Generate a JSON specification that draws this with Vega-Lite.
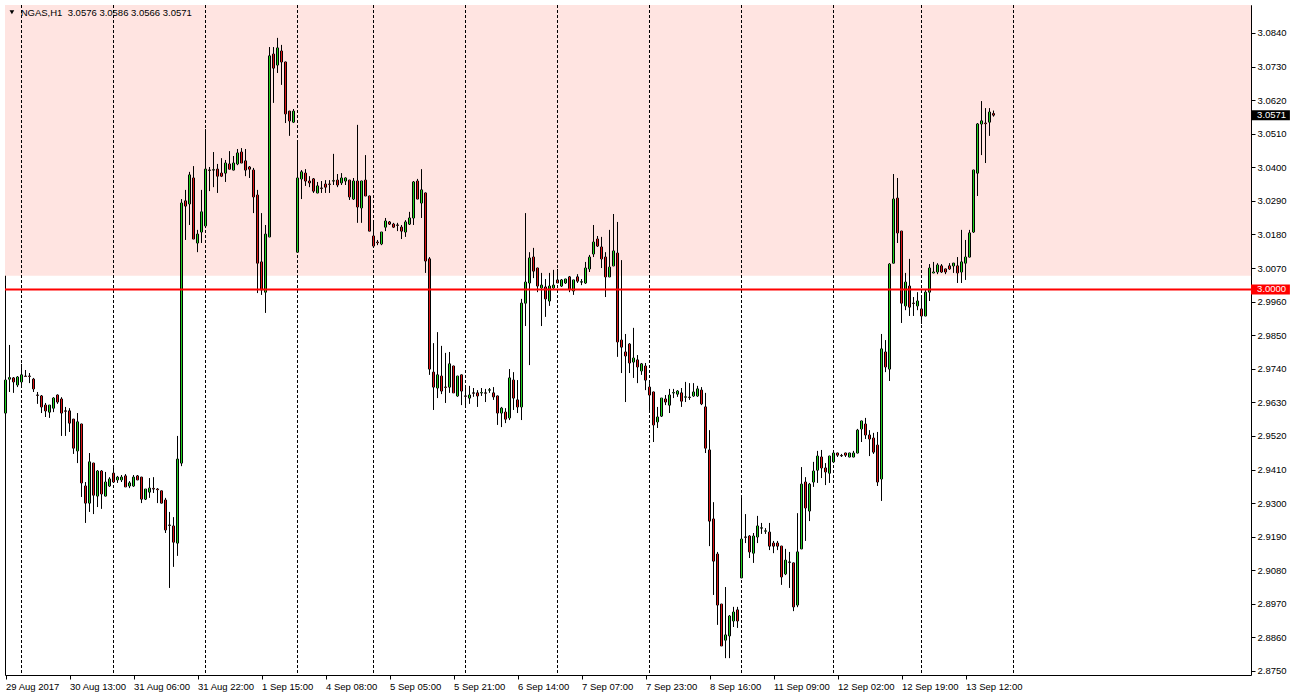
{
"$schema":"https://vega.github.io/schema/vega-lite/v6.json",
"width":1246,"height":670,
"autosize":{"type":"none"},
"padding":{"left":5,"top":5,"right":42,"bottom":23},
"background":"#ffffff",
"config":{"view":{"stroke":"#000000","strokeWidth":1},"font":"Liberation Sans",
"scale":{"continuousPadding":0},
"axis":{"labelFont":"Liberation Sans","labelFontSize":9.5,"labelColor":"#000000","tickColor":"#000000","tickSize":4,"domain":false,"grid":false,"labelOverlap":false,"labelBound":false,"labelFlush":false}},
"datasets":{
"bars":[
{"i":0,"o":2.9595,"h":2.9716,"l":2.9582,"c":2.9703},
{"i":1,"o":2.9706,"h":2.9818,"l":2.9664,"c":2.9711},
{"i":2,"o":2.9710,"h":2.9713,"l":2.9661,"c":2.9697},
{"i":3,"o":2.9687,"h":2.9716,"l":2.9680,"c":2.9713},
{"i":4,"o":2.9697,"h":2.9756,"l":2.9687,"c":2.9720},
{"i":5,"o":2.9716,"h":2.9736,"l":2.9713,"c":2.9715},
{"i":6,"o":2.9716,"h":2.9726,"l":2.9693,"c":2.9715},
{"i":7,"o":2.9706,"h":2.9710,"l":2.9664,"c":2.9674},
{"i":8,"o":2.9654,"h":2.9664,"l":2.9625,"c":2.9653},
{"i":9,"o":2.9651,"h":2.9654,"l":2.9595,"c":2.9615},
{"i":10,"o":2.9621,"h":2.9628,"l":2.9582,"c":2.9602},
{"i":11,"o":2.9598,"h":2.9621,"l":2.9579,"c":2.9621},
{"i":12,"o":2.9611,"h":2.9647,"l":2.9598,"c":2.9644},
{"i":13,"o":2.9654,"h":2.9656,"l":2.9625,"c":2.9631},
{"i":14,"o":2.9641,"h":2.9647,"l":2.9520,"c":2.9595},
{"i":15,"o":2.9602,"h":2.9615,"l":2.9520,"c":2.9601},
{"i":16,"o":2.9602,"h":2.9611,"l":2.9533,"c":2.9562},
{"i":17,"o":2.9575,"h":2.9576,"l":2.9461,"c":2.9480},
{"i":18,"o":2.9471,"h":2.9595,"l":2.9431,"c":2.9566},
{"i":19,"o":2.9559,"h":2.9560,"l":2.9320,"c":2.9366},
{"i":20,"o":2.9356,"h":2.9369,"l":2.9235,"c":2.9300},
{"i":21,"o":2.9300,"h":2.9464,"l":2.9271,"c":2.9435},
{"i":22,"o":2.9431,"h":2.9432,"l":2.9264,"c":2.9326},
{"i":23,"o":2.9323,"h":2.9408,"l":2.9287,"c":2.9405},
{"i":24,"o":2.9405,"h":2.9408,"l":2.9281,"c":2.9330},
{"i":25,"o":2.9323,"h":2.9402,"l":2.9322,"c":2.9369},
{"i":26,"o":2.9356,"h":2.9385,"l":2.9353,"c":2.9379},
{"i":27,"o":2.9398,"h":2.9421,"l":2.9368,"c":2.9369},
{"i":28,"o":2.9376,"h":2.9389,"l":2.9366,"c":2.9385},
{"i":29,"o":2.9376,"h":2.9392,"l":2.9369,"c":2.9385},
{"i":30,"o":2.9389,"h":2.9395,"l":2.9353,"c":2.9353},
{"i":31,"o":2.9356,"h":2.9372,"l":2.9349,"c":2.9366},
{"i":32,"o":2.9356,"h":2.9392,"l":2.9353,"c":2.9385},
{"i":33,"o":2.9389,"h":2.9392,"l":2.9375,"c":2.9376},
{"i":34,"o":2.9385,"h":2.9386,"l":2.9300,"c":2.9313},
{"i":35,"o":2.9313,"h":2.9346,"l":2.9310,"c":2.9346},
{"i":36,"o":2.9336,"h":2.9382,"l":2.9317,"c":2.9349},
{"i":37,"o":2.9348,"h":2.9385,"l":2.9333,"c":2.9346},
{"i":38,"o":2.9346,"h":2.9349,"l":2.9300,"c":2.9344},
{"i":39,"o":2.9340,"h":2.9341,"l":2.9299,"c":2.9300},
{"i":40,"o":2.9310,"h":2.9317,"l":2.9202,"c":2.9212},
{"i":41,"o":2.9228,"h":2.9271,"l":2.9022,"c":2.9227},
{"i":42,"o":2.9225,"h":2.9254,"l":2.9091,"c":2.9172},
{"i":43,"o":2.9169,"h":2.9520,"l":2.9127,"c":2.9444},
{"i":44,"o":2.9431,"h":3.0296,"l":2.9421,"c":3.0283},
{"i":45,"o":3.0290,"h":3.0326,"l":3.0162,"c":3.0273},
{"i":46,"o":3.0280,"h":3.0385,"l":3.0211,"c":3.0375},
{"i":47,"o":3.0365,"h":3.0404,"l":3.0165,"c":3.0165},
{"i":48,"o":3.0152,"h":3.0195,"l":3.0122,"c":3.0181},
{"i":49,"o":3.0188,"h":3.0326,"l":3.0152,"c":3.0254},
{"i":50,"o":3.0208,"h":3.0525,"l":3.0201,"c":3.0394},
{"i":51,"o":3.0391,"h":3.0401,"l":3.0322,"c":3.0390},
{"i":52,"o":3.0391,"h":3.0450,"l":3.0335,"c":3.0392},
{"i":53,"o":3.0394,"h":3.0411,"l":3.0316,"c":3.0371},
{"i":54,"o":3.0381,"h":3.0430,"l":3.0368,"c":3.0371},
{"i":55,"o":3.0381,"h":3.0424,"l":3.0352,"c":3.0414},
{"i":56,"o":3.0411,"h":3.0453,"l":3.0393,"c":3.0394},
{"i":57,"o":3.0391,"h":3.0437,"l":3.0390,"c":3.0414},
{"i":58,"o":3.0411,"h":3.0460,"l":3.0407,"c":3.0447},
{"i":59,"o":3.0450,"h":3.0463,"l":3.0414,"c":3.0414},
{"i":60,"o":3.0421,"h":3.0460,"l":3.0371,"c":3.0391},
{"i":61,"o":3.0401,"h":3.0404,"l":3.0365,"c":3.0394},
{"i":62,"o":3.0391,"h":3.0398,"l":3.0250,"c":3.0303},
{"i":63,"o":3.0309,"h":3.0326,"l":2.9988,"c":3.0086},
{"i":64,"o":3.0090,"h":3.0250,"l":2.9982,"c":2.9998},
{"i":65,"o":2.9991,"h":3.0211,"l":2.9923,"c":3.0181},
{"i":66,"o":3.0172,"h":3.0794,"l":3.0171,"c":3.0765},
{"i":67,"o":3.0771,"h":3.0794,"l":3.0611,"c":3.0725},
{"i":68,"o":3.0735,"h":3.0824,"l":3.0709,"c":3.0791},
{"i":69,"o":3.0781,"h":3.0801,"l":3.0670,"c":3.0745},
{"i":70,"o":3.0745,"h":3.0746,"l":3.0545,"c":3.0575},
{"i":71,"o":3.0584,"h":3.0585,"l":3.0503,"c":3.0552},
{"i":72,"o":3.0548,"h":3.0591,"l":3.0545,"c":3.0584},
{"i":73,"o":3.0122,"h":3.0483,"l":3.0121,"c":3.0365},
{"i":74,"o":3.0362,"h":3.0391,"l":3.0296,"c":3.0385},
{"i":75,"o":3.0381,"h":3.0394,"l":3.0339,"c":3.0355},
{"i":76,"o":3.0355,"h":3.0371,"l":3.0335,"c":3.0349},
{"i":77,"o":3.0362,"h":3.0365,"l":3.0316,"c":3.0322},
{"i":78,"o":3.0316,"h":3.0352,"l":3.0315,"c":3.0339},
{"i":79,"o":3.0332,"h":3.0355,"l":3.0316,"c":3.0331},
{"i":80,"o":3.0345,"h":3.0358,"l":3.0316,"c":3.0335},
{"i":81,"o":3.0345,"h":3.0358,"l":3.0316,"c":3.0344},
{"i":82,"o":3.0355,"h":3.0444,"l":3.0342,"c":3.0356},
{"i":83,"o":3.0358,"h":3.0378,"l":3.0335,"c":3.0342},
{"i":84,"o":3.0349,"h":3.0381,"l":3.0342,"c":3.0365},
{"i":85,"o":3.0355,"h":3.0367,"l":3.0342,"c":3.0365},
{"i":86,"o":3.0358,"h":3.0359,"l":3.0293,"c":3.0303},
{"i":87,"o":3.0296,"h":3.0365,"l":3.0293,"c":3.0355},
{"i":88,"o":3.0355,"h":3.0539,"l":3.0218,"c":3.0270},
{"i":89,"o":3.0267,"h":3.0356,"l":3.0218,"c":3.0355},
{"i":90,"o":3.0358,"h":3.0440,"l":3.0306,"c":3.0306},
{"i":91,"o":3.0306,"h":3.0307,"l":3.0191,"c":3.0191},
{"i":92,"o":3.0175,"h":3.0218,"l":3.0136,"c":3.0142},
{"i":93,"o":3.0155,"h":3.0162,"l":3.0145,"c":3.0153},
{"i":94,"o":3.0149,"h":3.0188,"l":3.0145,"c":3.0188},
{"i":95,"o":3.0204,"h":3.0234,"l":3.0191,"c":3.0224},
{"i":96,"o":3.0221,"h":3.0224,"l":3.0211,"c":3.0214},
{"i":97,"o":3.0214,"h":3.0218,"l":3.0201,"c":3.0204},
{"i":98,"o":3.0211,"h":3.0218,"l":3.0191,"c":3.0210},
{"i":99,"o":3.0204,"h":3.0211,"l":3.0165,"c":3.0191},
{"i":100,"o":3.0188,"h":3.0227,"l":3.0172,"c":3.0221},
{"i":101,"o":3.0214,"h":3.0254,"l":3.0211,"c":3.0234},
{"i":102,"o":3.0234,"h":3.0355,"l":3.0211,"c":3.0352},
{"i":103,"o":3.0355,"h":3.0362,"l":3.0296,"c":3.0296},
{"i":104,"o":3.0283,"h":3.0394,"l":3.0234,"c":3.0326},
{"i":105,"o":3.0316,"h":3.0317,"l":3.0054,"c":3.0093},
{"i":106,"o":3.0100,"h":3.0106,"l":2.9720,"c":2.9739},
{"i":107,"o":2.9729,"h":2.9824,"l":2.9605,"c":2.9680},
{"i":108,"o":2.9677,"h":2.9860,"l":2.9644,"c":2.9720},
{"i":109,"o":2.9716,"h":2.9815,"l":2.9657,"c":2.9667},
{"i":110,"o":2.9680,"h":2.9792,"l":2.9628,"c":2.9679},
{"i":111,"o":2.9680,"h":2.9795,"l":2.9661,"c":2.9756},
{"i":112,"o":2.9749,"h":2.9750,"l":2.9661,"c":2.9661},
{"i":113,"o":2.9651,"h":2.9717,"l":2.9648,"c":2.9716},
{"i":114,"o":2.9720,"h":2.9721,"l":2.9621,"c":2.9667},
{"i":115,"o":2.9651,"h":2.9677,"l":2.9621,"c":2.9650},
{"i":116,"o":2.9644,"h":2.9684,"l":2.9625,"c":2.9654},
{"i":117,"o":2.9661,"h":2.9677,"l":2.9648,"c":2.9660},
{"i":118,"o":2.9661,"h":2.9670,"l":2.9615,"c":2.9651},
{"i":119,"o":2.9661,"h":2.9677,"l":2.9651,"c":2.9662},
{"i":120,"o":2.9661,"h":2.9674,"l":2.9631,"c":2.9660},
{"i":121,"o":2.9670,"h":2.9677,"l":2.9661,"c":2.9671},
{"i":122,"o":2.9661,"h":2.9680,"l":2.9638,"c":2.9648},
{"i":123,"o":2.9651,"h":2.9652,"l":2.9556,"c":2.9595},
{"i":124,"o":2.9595,"h":2.9615,"l":2.9549,"c":2.9611},
{"i":125,"o":2.9598,"h":2.9611,"l":2.9562,"c":2.9575},
{"i":126,"o":2.9579,"h":2.9739,"l":2.9572,"c":2.9710},
{"i":127,"o":2.9703,"h":2.9729,"l":2.9605,"c":2.9644},
{"i":128,"o":2.9638,"h":2.9703,"l":2.9595,"c":2.9615},
{"i":129,"o":2.9615,"h":2.9969,"l":2.9572,"c":2.9955},
{"i":130,"o":2.9955,"h":3.0250,"l":2.9880,"c":3.0024},
{"i":131,"o":3.0021,"h":3.0122,"l":2.9752,"c":3.0103},
{"i":132,"o":3.0106,"h":3.0136,"l":3.0037,"c":3.0060},
{"i":133,"o":3.0070,"h":3.0071,"l":2.9991,"c":3.0011},
{"i":134,"o":3.0005,"h":3.0054,"l":2.9880,"c":3.0014},
{"i":135,"o":3.0008,"h":3.0034,"l":2.9910,"c":2.9969},
{"i":136,"o":2.9962,"h":3.0054,"l":2.9946,"c":3.0011},
{"i":137,"o":3.0005,"h":3.0064,"l":3.0001,"c":3.0014},
{"i":138,"o":3.0031,"h":3.0067,"l":3.0021,"c":3.0021},
{"i":139,"o":3.0011,"h":3.0034,"l":3.0008,"c":3.0031},
{"i":140,"o":3.0021,"h":3.0035,"l":3.0018,"c":3.0034},
{"i":141,"o":3.0041,"h":3.0044,"l":2.9991,"c":3.0001},
{"i":142,"o":2.9995,"h":3.0031,"l":2.9982,"c":3.0031},
{"i":143,"o":3.0041,"h":3.0050,"l":3.0021,"c":3.0027},
{"i":144,"o":3.0024,"h":3.0034,"l":3.0014,"c":3.0025},
{"i":145,"o":3.0021,"h":3.0090,"l":3.0018,"c":3.0070},
{"i":146,"o":3.0067,"h":3.0113,"l":3.0057,"c":3.0106},
{"i":147,"o":3.0116,"h":3.0211,"l":3.0106,"c":3.0155},
{"i":148,"o":3.0165,"h":3.0175,"l":3.0139,"c":3.0142},
{"i":149,"o":3.0139,"h":3.0172,"l":3.0070,"c":3.0100},
{"i":150,"o":3.0106,"h":3.0122,"l":2.9975,"c":3.0041},
{"i":151,"o":3.0041,"h":3.0195,"l":3.0040,"c":3.0073},
{"i":152,"o":3.0077,"h":3.0247,"l":3.0076,"c":3.0126},
{"i":153,"o":3.0119,"h":3.0221,"l":2.9779,"c":2.9828},
{"i":154,"o":2.9834,"h":3.0096,"l":2.9726,"c":2.9811},
{"i":155,"o":2.9795,"h":2.9854,"l":2.9631,"c":2.9782},
{"i":156,"o":2.9821,"h":2.9824,"l":2.9726,"c":2.9759},
{"i":157,"o":2.9762,"h":2.9874,"l":2.9710,"c":2.9775},
{"i":158,"o":2.9769,"h":2.9785,"l":2.9693,"c":2.9746},
{"i":159,"o":2.9733,"h":2.9759,"l":2.9720,"c":2.9756},
{"i":160,"o":2.9749,"h":2.9759,"l":2.9670,"c":2.9703},
{"i":161,"o":2.9680,"h":2.9693,"l":2.9605,"c":2.9654},
{"i":162,"o":2.9664,"h":2.9665,"l":2.9500,"c":2.9556},
{"i":163,"o":2.9566,"h":2.9615,"l":2.9546,"c":2.9582},
{"i":164,"o":2.9585,"h":2.9644,"l":2.9582,"c":2.9644},
{"i":165,"o":2.9641,"h":2.9654,"l":2.9621,"c":2.9631},
{"i":166,"o":2.9621,"h":2.9674,"l":2.9595,"c":2.9654},
{"i":167,"o":2.9661,"h":2.9674,"l":2.9644,"c":2.9662},
{"i":168,"o":2.9657,"h":2.9670,"l":2.9648,"c":2.9667},
{"i":169,"o":2.9661,"h":2.9677,"l":2.9615,"c":2.9634},
{"i":170,"o":2.9647,"h":2.9697,"l":2.9631,"c":2.9648},
{"i":171,"o":2.9647,"h":2.9693,"l":2.9638,"c":2.9646},
{"i":172,"o":2.9651,"h":2.9693,"l":2.9648,"c":2.9664},
{"i":173,"o":2.9651,"h":2.9684,"l":2.9648,"c":2.9674},
{"i":174,"o":2.9670,"h":2.9680,"l":2.9621,"c":2.9625},
{"i":175,"o":2.9615,"h":2.9661,"l":2.9464,"c":2.9480},
{"i":176,"o":2.9474,"h":2.9539,"l":2.9159,"c":2.9241},
{"i":177,"o":2.9248,"h":2.9303,"l":2.8999,"c":2.9110},
{"i":178,"o":2.9133,"h":2.9140,"l":2.8901,"c":2.8966},
{"i":179,"o":2.8969,"h":2.8970,"l":2.8832,"c":2.8832},
{"i":180,"o":2.8851,"h":2.9025,"l":2.8792,"c":2.8868},
{"i":181,"o":2.8865,"h":2.8933,"l":2.8792,"c":2.8930},
{"i":182,"o":2.8914,"h":2.8960,"l":2.8894,"c":2.8943},
{"i":183,"o":2.8950,"h":2.8960,"l":2.8891,"c":2.8914},
{"i":184,"o":2.9055,"h":2.9323,"l":2.9054,"c":2.9182},
{"i":185,"o":2.9189,"h":2.9264,"l":2.9169,"c":2.9188},
{"i":186,"o":2.9192,"h":2.9195,"l":2.9120,"c":2.9140},
{"i":187,"o":2.9136,"h":2.9202,"l":2.9104,"c":2.9192},
{"i":188,"o":2.9189,"h":2.9258,"l":2.9169,"c":2.9225},
{"i":189,"o":2.9218,"h":2.9235,"l":2.9199,"c":2.9219},
{"i":190,"o":2.9208,"h":2.9218,"l":2.9199,"c":2.9209},
{"i":191,"o":2.9205,"h":2.9235,"l":2.9146,"c":2.9159},
{"i":192,"o":2.9169,"h":2.9176,"l":2.9136,"c":2.9159},
{"i":193,"o":2.9169,"h":2.9176,"l":2.9146,"c":2.9159},
{"i":194,"o":2.9159,"h":2.9160,"l":2.9032,"c":2.9058},
{"i":195,"o":2.9068,"h":2.9150,"l":2.9064,"c":2.9113},
{"i":196,"o":2.9107,"h":2.9140,"l":2.9022,"c":2.9106},
{"i":197,"o":2.9104,"h":2.9105,"l":2.8946,"c":2.8960},
{"i":198,"o":2.8966,"h":2.9267,"l":2.8959,"c":2.9140},
{"i":199,"o":2.9150,"h":2.9418,"l":2.9149,"c":2.9362},
{"i":200,"o":2.9369,"h":2.9385,"l":2.9176,"c":2.9284},
{"i":201,"o":2.9274,"h":2.9366,"l":2.9241,"c":2.9362},
{"i":202,"o":2.9369,"h":2.9435,"l":2.9353,"c":2.9405},
{"i":203,"o":2.9408,"h":2.9471,"l":2.9366,"c":2.9454},
{"i":204,"o":2.9451,"h":2.9474,"l":2.9382,"c":2.9415},
{"i":205,"o":2.9415,"h":2.9431,"l":2.9359,"c":2.9402},
{"i":206,"o":2.9398,"h":2.9455,"l":2.9366,"c":2.9454},
{"i":207,"o":2.9435,"h":2.9465,"l":2.9431,"c":2.9464},
{"i":208,"o":2.9464,"h":2.9465,"l":2.9451,"c":2.9457},
{"i":209,"o":2.9456,"h":2.9461,"l":2.9451,"c":2.9455},
{"i":210,"o":2.9464,"h":2.9465,"l":2.9451,"c":2.9457},
{"i":211,"o":2.9451,"h":2.9465,"l":2.9450,"c":2.9464},
{"i":212,"o":2.9451,"h":2.9471,"l":2.9450,"c":2.9464},
{"i":213,"o":2.9464,"h":2.9543,"l":2.9463,"c":2.9539},
{"i":214,"o":2.9543,"h":2.9570,"l":2.9500,"c":2.9569},
{"i":215,"o":2.9559,"h":2.9579,"l":2.9510,"c":2.9523},
{"i":216,"o":2.9523,"h":2.9539,"l":2.9454,"c":2.9510},
{"i":217,"o":2.9513,"h":2.9530,"l":2.9461,"c":2.9467},
{"i":218,"o":2.9490,"h":2.9533,"l":2.9356,"c":2.9369},
{"i":219,"o":2.9379,"h":2.9854,"l":2.9307,"c":2.9805},
{"i":220,"o":2.9795,"h":2.9834,"l":2.9729,"c":2.9746},
{"i":221,"o":2.9739,"h":3.0086,"l":2.9700,"c":3.0083},
{"i":222,"o":3.0086,"h":3.0378,"l":3.0085,"c":3.0296},
{"i":223,"o":3.0299,"h":3.0365,"l":3.0152,"c":3.0185},
{"i":224,"o":3.0191,"h":3.0192,"l":2.9890,"c":2.9955},
{"i":225,"o":2.9946,"h":3.0054,"l":2.9932,"c":3.0024},
{"i":226,"o":3.0011,"h":3.0100,"l":2.9913,"c":2.9942},
{"i":227,"o":2.9955,"h":2.9975,"l":2.9913,"c":2.9954},
{"i":228,"o":2.9946,"h":2.9991,"l":2.9932,"c":2.9962},
{"i":229,"o":2.9936,"h":2.9972,"l":2.9887,"c":2.9913},
{"i":230,"o":2.9913,"h":2.9998,"l":2.9912,"c":2.9991},
{"i":231,"o":2.9991,"h":3.0083,"l":2.9962,"c":3.0070},
{"i":232,"o":3.0054,"h":3.0090,"l":3.0053,"c":3.0057},
{"i":233,"o":3.0057,"h":3.0086,"l":3.0050,"c":3.0080},
{"i":234,"o":3.0077,"h":3.0083,"l":3.0054,"c":3.0057},
{"i":235,"o":3.0067,"h":3.0068,"l":3.0050,"c":3.0057},
{"i":236,"o":3.0077,"h":3.0086,"l":3.0064,"c":3.0067},
{"i":237,"o":3.0077,"h":3.0087,"l":3.0054,"c":3.0086},
{"i":238,"o":3.0077,"h":3.0106,"l":3.0021,"c":3.0054},
{"i":239,"o":3.0057,"h":3.0195,"l":3.0021,"c":3.0090},
{"i":240,"o":3.0086,"h":3.0162,"l":3.0031,"c":3.0106},
{"i":241,"o":3.0106,"h":3.0195,"l":3.0105,"c":3.0185},
{"i":242,"o":3.0188,"h":3.0392,"l":3.0185,"c":3.0391},
{"i":243,"o":3.0381,"h":3.0545,"l":3.0306,"c":3.0542},
{"i":244,"o":3.0542,"h":3.0617,"l":3.0440,"c":3.0552},
{"i":245,"o":3.0545,"h":3.0594,"l":3.0414,"c":3.0543},
{"i":246,"o":3.0548,"h":3.0594,"l":3.0503,"c":3.0581},
{"i":247,"o":3.0576,"h":3.0586,"l":3.0566,"c":3.0571}
],
"days":[{"d":4},{"d":27},{"d":50},{"d":73},{"d":92},{"d":115},{"d":138},{"d":161},{"d":184},{"d":207},{"d":229},{"d":252}],
"one":[{"k":1}]
},
"layer":[
{"data":{"name":"one"},"mark":{"type":"rect","color":"#ffe4e1"},
 "encoding":{
  "x":{"datum":-0.125,"type":"quantitative","scale":{"domain":[-0.125,311.375],"nice":false,"zero":false,"padding":0}},
  "x2":{"datum":311.375},
  "y":{"datum":3.0045,"type":"quantitative","scale":{"domain":[2.87368,3.09317],"nice":false,"zero":false,"padding":0}},
  "y2":{"datum":3.09317}}},
{"data":{"name":"days"},"mark":{"type":"rule","color":"#000000","strokeWidth":1,"strokeDash":[3,2]},
 "encoding":{"x":{"field":"d","type":"quantitative","scale":{"domain":[-0.125,311.375],"nice":false,"zero":false,"padding":0},"title":null}}},
{"data":{"name":"bars"},"mark":{"type":"rule","color":"#000000","strokeWidth":1},
 "encoding":{
  "x":{"field":"i","type":"quantitative","title":null,"scale":{"domain":[-0.125,311.375],"nice":false,"zero":false,"padding":0},
   "axis":{"orient":"bottom","values":[0,16,32,48,64,80,96,112,128,144,160,176,192,208,224,240],"tickCount":40,"labelAlign":"left","labelPadding":2,"labelBaseline":"top","title":null,"labelOverlap":false,
   "labelExpr":"['29 Aug 2017','30 Aug 13:00','31 Aug 06:00','31 Aug 22:00','1 Sep 15:00','4 Sep 08:00','5 Sep 05:00','5 Sep 21:00','6 Sep 14:00','7 Sep 07:00','7 Sep 23:00','8 Sep 16:00','11 Sep 09:00','12 Sep 02:00','12 Sep 19:00','13 Sep 12:00'][round(datum.value/16)]"}},
  "y":{"field":"l","type":"quantitative","title":null,"scale":{"domain":[2.87368,3.09317],"nice":false,"zero":false,"padding":0},
   "axis":{"orient":"right","values":[2.875,2.886,2.897,2.908,2.919,2.93,2.941,2.952,2.963,2.974,2.985,2.996,3.007,3.018,3.029,3.04,3.051,3.062,3.073,3.084],"tickCount":40,"format":".4f","labelAlign":"left","labelPadding":2,"labelBaseline":"middle","title":null,"labelOverlap":false,"labelBound":false}},
  "y2":{"field":"h"}}},
{"data":{"name":"bars"},"mark":{"type":"bar","width":2,"stroke":"#000000","strokeWidth":1,"fill":"#000000"},
 "encoding":{
  "x":{"field":"i","type":"quantitative","title":null,"scale":{"domain":[-0.125,311.375],"nice":false,"zero":false,"padding":0}},
  "y":{"field":"o","type":"quantitative","title":null,"scale":{"domain":[2.87368,3.09317],"nice":false,"zero":false,"padding":0}},
  "y2":{"field":"c"}}},
{"data":{"name":"bars"},"mark":{"type":"bar","width":1},
 "encoding":{
  "x":{"field":"i","type":"quantitative","title":null,"scale":{"domain":[-0.125,311.375],"nice":false,"zero":false,"padding":0}},
  "y":{"field":"o","type":"quantitative","title":null,"scale":{"domain":[2.87368,3.09317],"nice":false,"zero":false,"padding":0}},
  "y2":{"field":"c"},
  "color":{"condition":{"test":"datum.c >= datum.o","value":"#1ed11e"},"value":"#dc1414"}}},
{"data":{"name":"one"},"mark":{"type":"rule","color":"#ff0000","strokeWidth":2},
 "encoding":{"y":{"datum":3.0,"type":"quantitative"}}},
{"data":{"name":"one"},"mark":{"type":"rect","color":"#000000","clip":false},
 "encoding":{"x":{"datum":311.375,"type":"quantitative"},"x2":{"datum":321.1},"y":{"datum":3.0587,"type":"quantitative"},"y2":{"datum":3.0554}}},
{"data":{"name":"one"},"mark":{"type":"text","color":"#ffffff","align":"left","baseline":"middle","font":"Liberation Sans","fontSize":9.5,"clip":false},
 "encoding":{"x":{"datum":312.9,"type":"quantitative"},"y":{"datum":3.0571,"type":"quantitative"},"text":{"value":"3.0571"}}},
{"data":{"name":"one"},"mark":{"type":"rect","color":"#ff0000","clip":false},
 "encoding":{"x":{"datum":311.375,"type":"quantitative"},"x2":{"datum":321.1},"y":{"datum":3.0016,"type":"quantitative"},"y2":{"datum":2.9983}}},
{"data":{"name":"one"},"mark":{"type":"text","color":"#ffffff","align":"left","baseline":"middle","font":"Liberation Sans","fontSize":9.5,"clip":false},
 "encoding":{"x":{"datum":312.9,"type":"quantitative"},"y":{"datum":3.0,"type":"quantitative"},"text":{"value":"3.0000"}}},
{"data":{"name":"one"},"mark":{"type":"point","shape":"triangle-down","filled":true,"color":"#000000","size":22,"opacity":1},
 "encoding":{"x":{"datum":1.6,"type":"quantitative"},"y":{"datum":3.0908,"type":"quantitative"}}},
{"data":{"name":"one"},"mark":{"type":"text","color":"#000000","align":"left","baseline":"middle","font":"Liberation Sans","fontSize":9.5},
 "encoding":{"x":{"datum":3.8,"type":"quantitative"},"y":{"datum":3.0906,"type":"quantitative"},"text":{"value":"NGAS,H1\u00a0 3.0576 3.0586 3.0566 3.0571"}}}
]
}
